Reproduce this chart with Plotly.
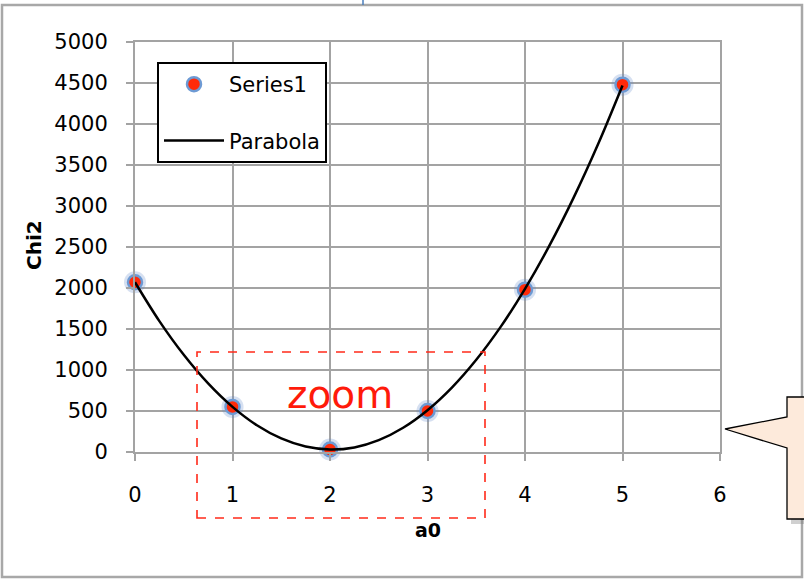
import plotly.graph_objects as go

# Measured chi-square values at each trial a0
a0 = [0, 1, 2, 3, 4, 5]
chi2 = [2070, 550, 30, 500, 1980, 4480]

# Fitted parabola, sampled along a0
parab_a0 = [0, 0.25, 0.5, 0.75, 1.0, 1.25, 1.5, 1.75, 2.0, 2.25, 2.5,
            2.75, 3.0, 3.25, 3.5, 3.75, 4.0, 4.25, 4.5, 4.75, 5.0]
parab_chi2 = [2070, 1596, 1185, 836, 550, 326, 165, 66, 30, 56, 145,
              296, 510, 786, 1125, 1526, 1990, 2516, 3105, 3756, 4470]

x_ticks = [0, 1, 2, 3, 4, 5, 6]
y_ticks = [0, 500, 1000, 1500, 2000, 2500, 3000, 3500, 4000, 4500, 5000]

FONT = "DejaVu Sans"
GRID = "#a3a3a3"

fig = go.Figure()

# soft blue halo behind the points
fig.add_trace(go.Scatter(
    x=a0, y=chi2, mode="markers", showlegend=False, hoverinfo="skip",
    cliponaxis=False,
    marker=dict(size=22, color="rgba(90,130,200,0.25)", line=dict(width=0)),
))
fig.add_trace(go.Scatter(
    x=a0, y=chi2, mode="markers", name="Series1", legendgroup="s",
    cliponaxis=False,
    marker=dict(size=14, color="#ff2a0a", line=dict(color="#6d9ad4", width=2.5)),
))
fig.add_trace(go.Scatter(
    x=parab_a0, y=parab_chi2, mode="lines", name="Parabola", legendgroup="p",
    line=dict(color="black", width=2.5, shape="spline"),
))

# pixel -> paper helpers for the 804x580 canvas
L, R, T, B = 135, 720, 42, 452
def px(x):
    return (x - L) / (R - L)
def py(y):
    return (B - y) / (B - T)

shapes = [
    # outer chart border
    dict(type="rect", xref="paper", yref="paper", layer="below",
         x0=px(2), x1=px(802), y0=py(577), y1=py(5),
         line=dict(color="#a8a8a8", width=2.5), fillcolor="rgba(0,0,0,0)"),
    # small blue stub at the top edge
    dict(type="line", xref="paper", yref="paper",
         x0=px(363), x1=px(363), y0=py(0), y1=py(5),
         line=dict(color="#4a7ebb", width=1.5)),
    # dashed zoom box
    dict(type="rect", xref="paper", yref="paper",
         x0=px(197), x1=px(485), y0=py(518), y1=py(352),
         line=dict(color="#ff2a1a", width=1.6, dash="dash")),
    # callout shadow
    dict(type="path", xref="paper", yref="paper",
         path=(f"M{px(791)},{py(401)} L{px(812)},{py(401)} L{px(812)},{py(524)} "
               f"L{px(791)},{py(524)} Z"),
         fillcolor="rgba(120,120,120,0.35)", line=dict(width=0)),
    # callout bubble
    dict(type="path", xref="paper", yref="paper",
         path=(f"M{px(787)},{py(397)} L{px(812)},{py(397)} L{px(812)},{py(519)} "
               f"L{px(787)},{py(519)} L{px(787)},{py(448)} L{px(725)},{py(429)} "
               f"L{px(787)},{py(417)} Z"),
         fillcolor="#fdeadb", line=dict(color="black", width=1.3)),
]

annotations = [
    dict(text="zoom", xref="paper", yref="paper", x=px(340), y=py(394),
         xanchor="center", yanchor="middle", showarrow=False,
         font=dict(family=FONT, size=39, color="#ff1a0a")),
    dict(text="<b>a0</b>", xref="paper", yref="paper", x=px(428), y=py(530),
         xanchor="center", yanchor="middle", showarrow=False,
         font=dict(family=FONT, size=19, color="black")),
    dict(text="<b>Chi2</b>", xref="paper", yref="paper", x=px(34), y=py(245),
         xanchor="center", yanchor="middle", textangle=-90, showarrow=False,
         font=dict(family=FONT, size=20, color="black")),
]

axis_common = dict(
    showgrid=True, gridcolor=GRID, gridwidth=2,
    showline=True, linecolor=GRID, linewidth=2, mirror=True,
    zeroline=False, ticks="outside", ticklen=7, tickcolor=GRID, tickwidth=2,
    tickfont=dict(family=FONT, size=21, color="black"),
)

fig.update_layout(
    width=804, height=580,
    margin=dict(l=L, r=804 - R, t=T, b=580 - B),
    paper_bgcolor="white", plot_bgcolor="white",
    xaxis=dict(range=[0, 6], tickvals=x_ticks, ticklabelstandoff=16, **axis_common),
    yaxis=dict(range=[0, 5000], tickvals=y_ticks, ticklabelstandoff=14, **axis_common),
    legend=dict(x=px(157), y=py(62), xanchor="left", yanchor="top",
                bgcolor="white", bordercolor="black", borderwidth=2,
                font=dict(family=FONT, size=21, color="black"),
                tracegroupgap=26, itemwidth=60),
    shapes=shapes,
    annotations=annotations,
)

fig.write_html("out.html")
